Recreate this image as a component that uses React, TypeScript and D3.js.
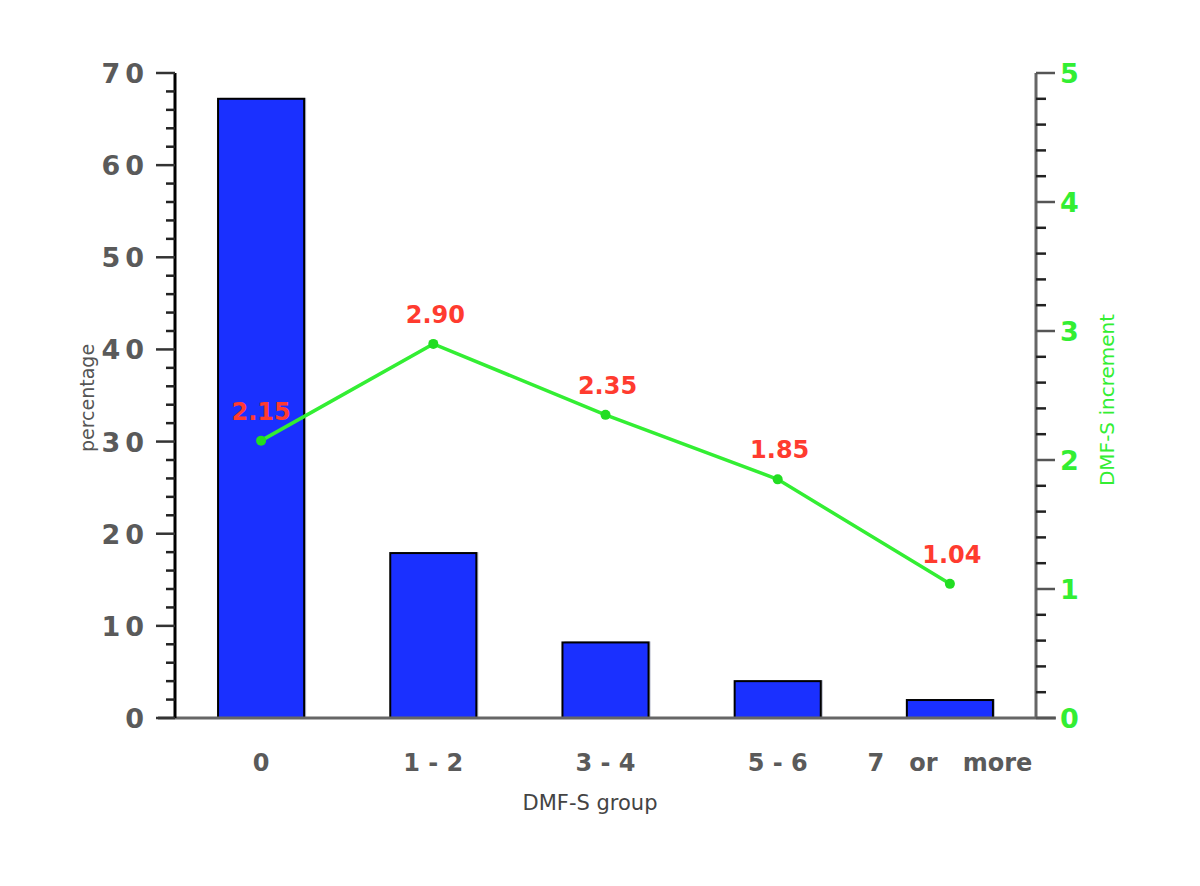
import React from 'react';
import * as d3 from 'd3';

const categories = ['0', '1 - 2', '3 - 4', '5 - 6', '7   or   more'];
const percentages = [67.2, 17.9, 8.2, 4.0, 1.95];
const increments = [2.15, 2.9, 2.35, 1.85, 1.04];
const incrementLabels = ['2.15', '2.90', '2.35', '1.85', '1.04'];
const leftTicks = [0, 10, 20, 30, 40, 50, 60, 70];
const rightTicks = [0, 1, 2, 3, 4, 5];

const width = 1200;
const height = 886;
const left = 175;
const right = 1036;
const top = 73;
const bottom = 718;

const App: React.FC = () => {
  const x = d3.scaleBand<string>().domain(categories).range([left, right])
    .paddingInner(0.5).paddingOuter(0.25);
  const yL = d3.scaleLinear().domain([0, 70]).range([bottom, top]);
  const yR = d3.scaleLinear().domain([0, 5]).range([bottom, top]);

  const leftMinor = d3.range(0, 70.001, 2).filter(v => v % 10 !== 0);
  const rightMinor = d3.range(0, 5.001, 0.2).filter(v => Math.abs(v - Math.round(v)) > 0.01);

  const cx = (i: number) => x(categories[i])! + x.bandwidth() / 2;

  const line = d3.line<number>()
    .x((_, i) => cx(i))
    .y(d => yR(d));

  const font = "'DejaVu Sans', Verdana, sans-serif";
  const grey = '#5a5a5a';
  const green = '#33ee33';

  return (
    <svg width={width} height={height} style={{ position: 'absolute', left: 0, top: 0 }} fontFamily={font}>
      <rect width={width} height={height} fill="#fff" />

      {/* bars */}
      {percentages.map((v, i) => (
        <g key={i}>
          <rect x={x(categories[i])! + 2} y={yL(v) - 1} width={x.bandwidth()} height={bottom - yL(v) + 1} fill="#b8bccc" />
          <rect x={x(categories[i])} y={yL(v)} width={x.bandwidth()} height={bottom - yL(v)} fill="#1a30ff" stroke="#000" strokeWidth={2} />
        </g>
      ))}

      {/* x axis */}
      <line x1={158} x2={1056} y1={bottom} y2={bottom} stroke="#666" strokeWidth={3} />
      {categories.map((c, i) => (
        <text key={c} x={cx(i)} y={771} textAnchor="middle"
          fontSize={24} fontWeight="bold" fill={grey} style={{ whiteSpace: 'pre' }}>{c}</text>
      ))}
      <text x={590} y={810} textAnchor="middle" fontSize={21} fill="#444">DMF-S group</text>

      {/* left axis */}
      <line x1={left} x2={left} y1={top} y2={bottom} stroke="#000" strokeWidth={3} />
      {leftTicks.map(t => (
        <g key={t}>
          <line x1={left - 19} x2={left} y1={yL(t)} y2={yL(t)} stroke="#333" strokeWidth={2.5} />
          <text x={left - 26} y={yL(t) + 10} textAnchor="end" fontSize={27} fontWeight="bold" fill={grey} letterSpacing={5}>{t}</text>
        </g>
      ))}
      {leftMinor.map(t => (
        <line key={t} x1={left - 9} x2={left} y1={yL(t)} y2={yL(t)} stroke="#222" strokeWidth={2.5} />
      ))}
      <text transform={`translate(94,398) rotate(-90)`} textAnchor="middle" fontSize={19} fill="#555">percentage</text>

      {/* right axis */}
      <line x1={right} x2={right} y1={top} y2={bottom} stroke="#666" strokeWidth={3} />
      {rightTicks.map(t => (
        <g key={t}>
          <line x1={right} x2={right + 19} y1={yR(t)} y2={yR(t)} stroke="#555" strokeWidth={2.5} />
          <text x={right + 24} y={yR(t) + 10} textAnchor="start" fontSize={27} fontWeight="bold" fill={green}>{t}</text>
        </g>
      ))}
      {rightMinor.map(t => (
        <line key={t} x1={right} x2={right + 10} y1={yR(t)} y2={yR(t)} stroke="#222" strokeWidth={2.5} />
      ))}
      <text transform={`translate(1114,400) rotate(-90)`} textAnchor="middle" fontSize={20} fill={green}>DMF-S increment</text>

      {/* line */}
      <path d={line(increments)!} fill="none" stroke={green} strokeWidth={3.5} />
      {increments.map((v, i) => (
        <g key={i}>
          <circle cx={cx(i)} cy={yR(v)} r={5} fill="#22dd22" />
          <text x={cx(i) + (i === 0 ? 0 : 2)} y={yR(v) - 21} textAnchor="middle"
            fontSize={24} fontWeight="bold" fill="#ff3b2f">{incrementLabels[i]}</text>
        </g>
      ))}
    </svg>
  );
};

export default App;
